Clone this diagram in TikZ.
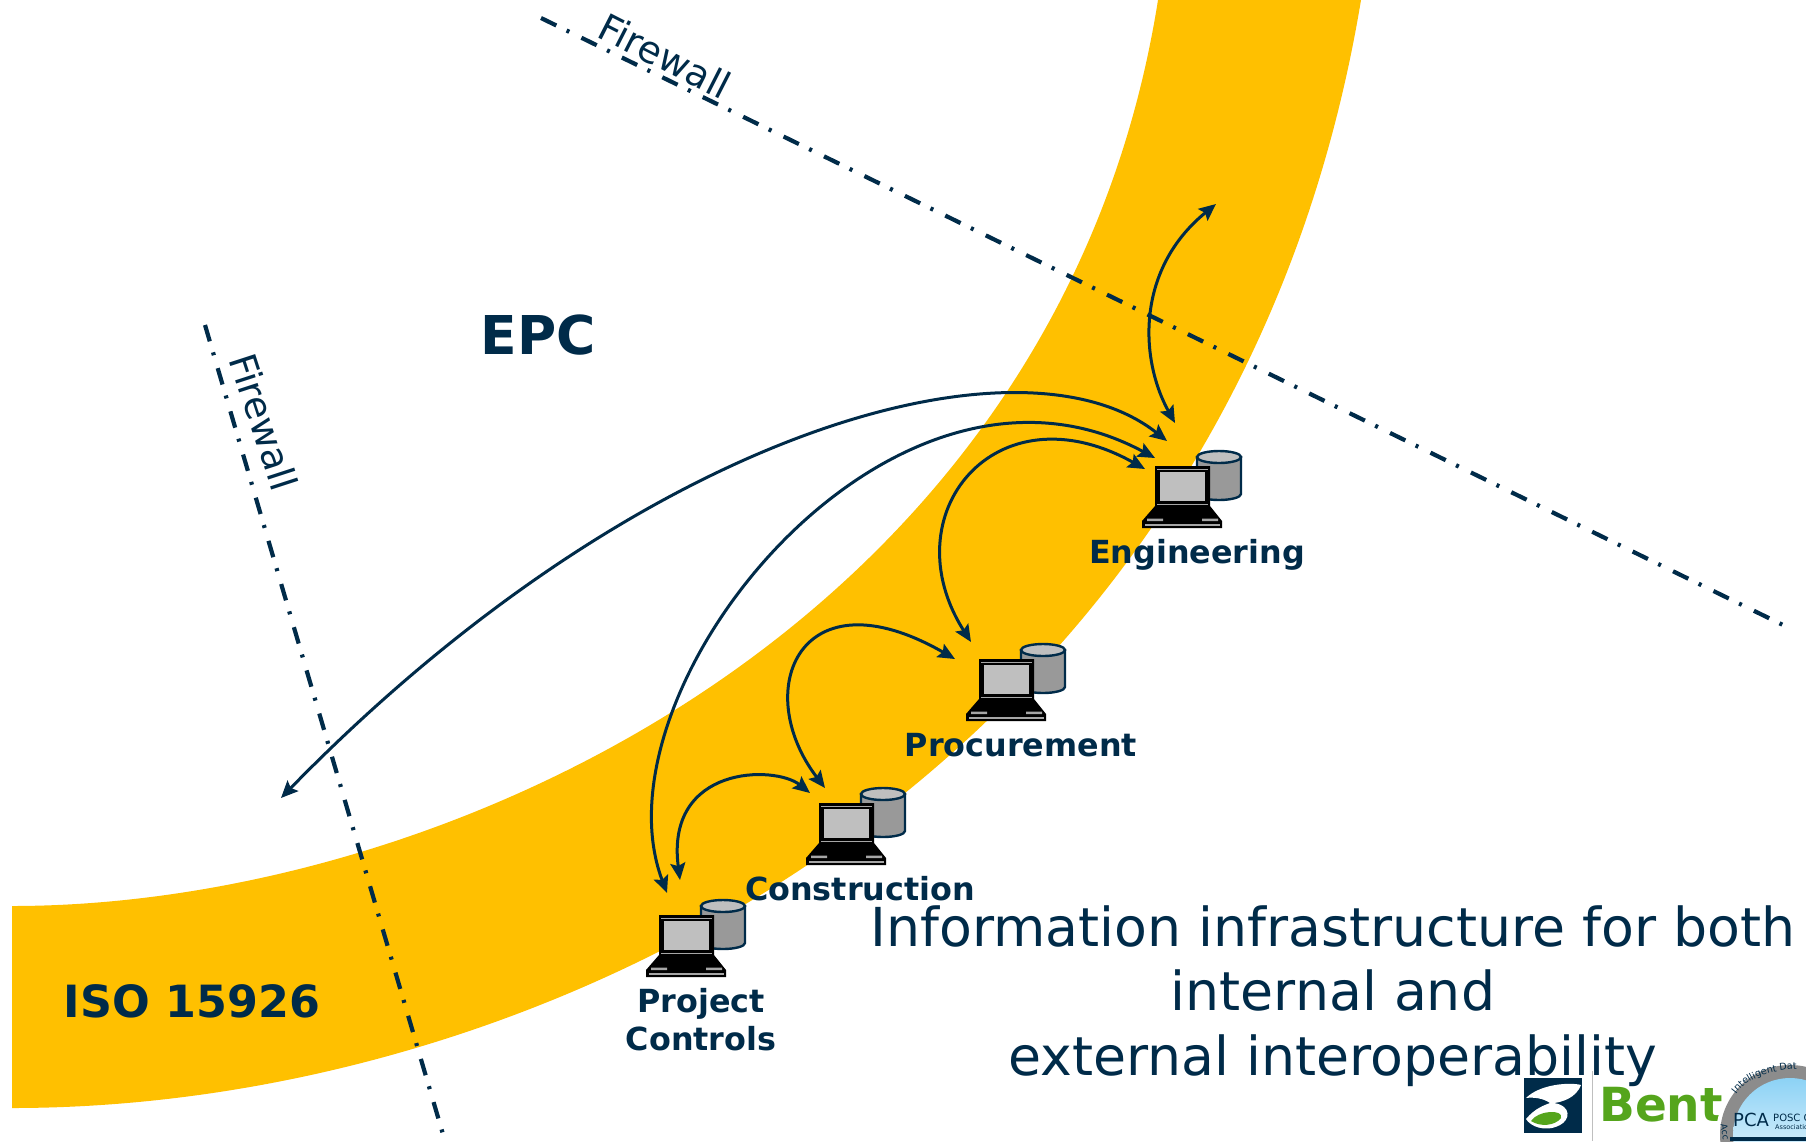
\documentclass[tikz,border=0pt]{standalone}
\usepackage{fontspec}
\setmainfont{DejaVu Sans}
\usepackage{xcolor}
\usetikzlibrary{arrows.meta,decorations.text}
\definecolor{navy}{HTML}{002B49}
\definecolor{bandyellow}{HTML}{FFC000}
\definecolor{bentgreen}{HTML}{55A51C}
\definecolor{sealblue}{HTML}{8CD2F5}
\tikzset{
  firewall/.style={navy, line width=4.2pt, dash pattern=on 17pt off 11.5pt on 3pt off 13.5pt},
  link/.style={navy, line width=3pt, {Stealth[inset=3pt,length=17pt,width=15pt]}-{Stealth[inset=3pt,length=17pt,width=15pt]}},
  dept/.style={navy, font=\bfseries\fontsize{31.8}{38}\selectfont, align=center},
  fwlabel/.style={navy, font=\fontsize{37.5}{44}\selectfont},
  pics/computer/.style={code={
    % database behind the laptop
    \draw[navy, line width=2.4pt, fill=black!40] (42,-9) -- (42,28) arc[start angle=180, end angle=0, x radius=22, y radius=6] -- (86,-9) -- cycle;
    \draw[navy, line width=2.4pt, fill=black!25] (64,-9) ellipse[x radius=22, y radius=6];
    % laptop
    \fill[black] (0,0) -- (55,0) -- (55,40) -- (67,55) -- (67,62) -- (-13,62) -- (-13,55) -- (0,40) -- cycle;
    \fill[black!25] (5,6) rectangle (50,35);
    \draw[black!35, line width=1pt] (2,3) -- (53,3) (2,38) -- (53,38);
    \fill[black!35] (-8,52.5) rectangle (8,55) (47,52.5) rectangle (63,55);
    \fill[black!35] (-10,57.5) rectangle (65,60);
  }}
}
\begin{document}
\begin{tikzpicture}[x=1pt, y=-1pt]
  \path[use as bounding box, clip] (0,0) rectangle (1806,1141);
  \fill[white] (0,0) rectangle (1806,1141);

  \fill[bandyellow] (12,906) .. controls (450,906) and (1060,620) .. (1158,0)
    -- (1361,0) .. controls (1235,760) and (560,1108) .. (12,1108) -- cycle;

  \coordinate (fwAa) at (541,18);
  \coordinate (fwAb) at (1783,625);
  \coordinate (fwBa) at (205,325);
  \coordinate (fwBb) at (445,1141);
  \draw[firewall] (fwAa) -- (fwAb);
  \draw[firewall] (fwBa) -- (fwBb);
  \node[fwlabel, rotate=-27] (fwAl) at (665,56) {Firewall};
  \node[fwlabel, rotate=-72] (fwBl) at (264,422) {Firewall};

  \coordinate (Eng) at (1155,466);
  \coordinate (Proc) at (979,659);
  \coordinate (Con) at (819,803);
  \coordinate (Proj) at (659,915);
  \pic at (Eng) {computer};
  \pic at (Proc) {computer};
  \pic at (Con) {computer};
  \pic at (Proj) {computer};

  \coordinate (out) at (1216,204);
  \coordinate (ext) at (281,798);
  \coordinate (EngA) at (1175,423);
  \coordinate (EngB) at (1167,441);
  \coordinate (EngC) at (1155,458);
  \coordinate (EngD) at (1145,469);
  \coordinate (ProcA) at (971,642);
  \coordinate (ProcB) at (955,659);
  \coordinate (ConA) at (825,788);
  \coordinate (ConB) at (810,793);
  \coordinate (ProjA) at (680,880);
  \coordinate (ProjB) at (667,893);

  \draw[link] (out) .. controls (1135,270) and (1140,360) .. (EngA);
  \draw[link] (ext) .. controls (640,430) and (1020,325) .. (EngB);
  \draw[link] (ProjB) .. controls (590,690) and (890,315) .. (EngC);
  \draw[link] (ProcA) .. controls (890,515) and (995,385) .. (EngD);
  \draw[link] (ConA) .. controls (750,690) and (800,570) .. (ProcB);
  \draw[link] (ProjA) .. controls (665,765) and (775,765) .. (ConB);

  \node[dept] (EngL) at (1197,555) {Engineering};
  \node[dept] (ProcL) at (1021,745) {Procurement};
  \node[dept] (ConL) at (860,889) {Construction};
  \node[dept] (ProjL) at (701,1020) {Project\\Controls};
  \node[navy, font=\bfseries\fontsize{44.4}{50}\selectfont] (iso) at (192,1001) {ISO 15926};
  \node[navy, font=\bfseries\fontsize{53.5}{60}\selectfont] (epc) at (538,335) {EPC};

  % logos
  \fill[navy] (1524,1078) rectangle (1582,1133);
  \fill[white] (1526,1098) .. controls (1540,1084) and (1570,1082) .. (1581,1085) .. controls (1576,1098) and (1562,1102) .. (1554,1103) .. controls (1572,1106) and (1570,1120) .. (1560,1125) .. controls (1545,1133) and (1530,1126) .. (1526,1119) .. controls (1535,1108) and (1545,1105) .. (1550,1103) .. controls (1543,1098) and (1533,1097) .. (1526,1098) -- cycle;
  \fill[bentgreen] (1531,1121) .. controls (1538,1110) and (1564,1109) .. (1561,1118) .. controls (1555,1126) and (1540,1127) .. (1531,1121) -- cycle;
  \draw[black!25, line width=1pt] (1592,1071) -- (1592,1141);
  \node[bentgreen, font=\bfseries\fontsize{47}{47}\selectfont, anchor=base west, inner sep=0pt] (bent) at (1599,1121) {Bent};

  \fill[white] (1790,1135) circle (74);
  \fill[black!45] (1790,1135) circle (70);
  \shade[top color=sealblue, bottom color=white] (1790,1135) circle (57);
  \fill[navy] (1730,1137) rectangle (1806,1141);
  \node[navy, font=\fontsize{18}{18}\selectfont, inner sep=0pt] (pca) at (1751,1120) {PCA};
  \node[navy, font=\fontsize{10}{10}\selectfont, anchor=west, inner sep=0pt] (posc) at (1773,1118) {POSC C};
  \node[navy, font=\fontsize{6.5}{7}\selectfont, anchor=west, inner sep=0pt] (assoc) at (1775,1127) {Association};
  \path[decorate, decoration={text along path, text align=left, text={|\fontsize{9.5}{10}\selectfont\color{navy}|Intelligent Dat}}]
    (1736,1094) .. controls (1748,1078) and (1770,1069) .. (1806,1069);
  \node[navy, font=\fontsize{9}{9}\selectfont, rotate=-82, inner sep=0pt] (acc) at (1725,1132) {Acc};

  \node[navy, font=\fontsize{53.7}{64.5}\selectfont, align=center] (info) at (1333,996) {Information infrastructure for both\\internal and\\external interoperability};
\end{tikzpicture}
\end{document}
